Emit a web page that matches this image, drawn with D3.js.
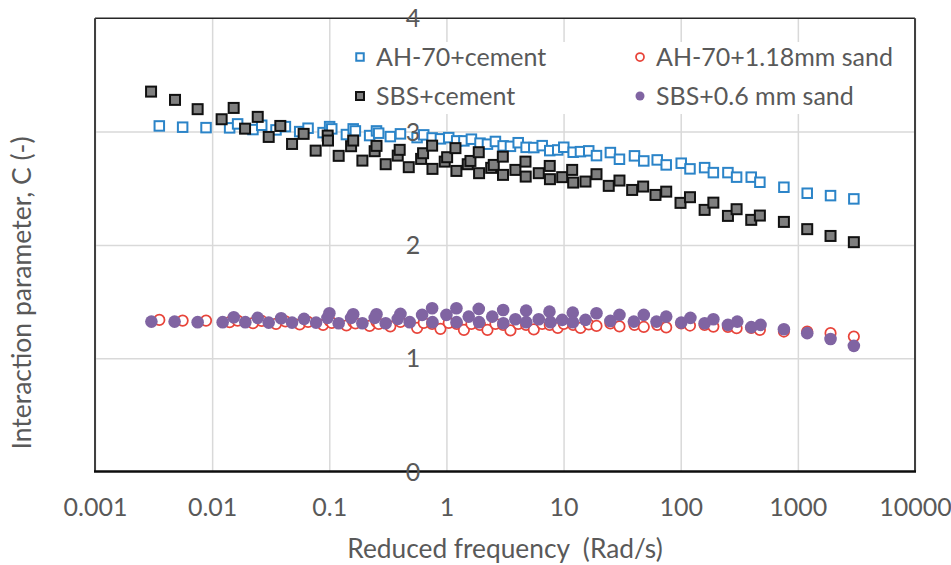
<!DOCTYPE html>
<html>
<head>
<meta charset="utf-8">
<script src="https://cdn.jsdelivr.net/npm/d3@7"></script>
<style>
  body { margin: 0; background: #fff; }
  text { font-family: Lato, "Open Sans", sans-serif; fill: #595959; }
</style>
</head>
<body>
<div id="chart"></div>
<script>
// data
const xTicks = [0.001, 0.01, 0.1, 1, 10, 100, 1000, 10000];
const yTicks = [0, 1, 2, 3, 4];

// AH-70 series share one frequency set
const ahFreq = [0.00354, 0.0056, 0.00887, 0.0141, 0.0165, 0.0223, 0.0265, 0.0351, 0.0422, 0.0559,
  0.0659, 0.0885, 0.1007, 0.105, 0.140, 0.160, 0.167, 0.221, 0.253, 0.264,
  0.332, 0.405, 0.562, 0.640, 0.755, 0.889, 1.046, 1.224, 1.41, 1.634,
  1.935, 2.24, 2.62, 3.05, 3.52, 4.10, 4.79, 5.57, 6.57, 7.62,
  8.92, 10.04, 12.08, 13.94, 16.4, 19.1, 25.1, 30.0, 40.3, 48.4,
  63.0, 75.2, 101, 120, 160, 190, 253, 300, 400, 474,
  760, 1202, 1901, 3006];
const ahCementC = [3.050, 3.039, 3.035, 3.033, 3.068, 3.018, 3.056, 3.015, 3.044, 3.000,
  3.030, 2.991, 3.044, 3.024, 2.974, 3.024, 3.006, 2.965, 3.006, 2.986,
  2.956, 2.980, 2.947, 2.971, 2.944, 2.936, 2.947, 2.918, 2.918, 2.933,
  2.898, 2.889, 2.913, 2.874, 2.870, 2.902, 2.861, 2.859, 2.876, 2.832,
  2.838, 2.862, 2.818, 2.823, 2.830, 2.788, 2.815, 2.756, 2.786, 2.741,
  2.750, 2.706, 2.721, 2.671, 2.682, 2.638, 2.638, 2.598, 2.598, 2.553,
  2.509, 2.456, 2.435, 2.406];
const ahSandC = [1.338, 1.332, 1.332, 1.318, 1.332, 1.309, 1.329, 1.303, 1.325, 1.298,
  1.320, 1.294, 1.329, 1.312, 1.289, 1.320, 1.307, 1.285, 1.320, 1.303,
  1.281, 1.320, 1.267, 1.312, 1.303, 1.259, 1.312, 1.303, 1.250, 1.303,
  1.294, 1.250, 1.303, 1.294, 1.245, 1.303, 1.294, 1.254, 1.303, 1.294,
  1.267, 1.303, 1.294, 1.267, 1.298, 1.285, 1.307, 1.281, 1.294, 1.276,
  1.294, 1.272, 1.307, 1.288, 1.294, 1.279, 1.276, 1.265, 1.267, 1.250,
  1.235, 1.235, 1.221, 1.191];

const sbsCementFreq = [0.00301, 0.00482, 0.00752, 0.01205, 0.01527, 0.0191, 0.0245, 0.0304, 0.0382, 0.0481,
  0.0604, 0.0765, 0.0969, 0.0975, 0.1203, 0.1535, 0.160, 0.1917, 0.244, 0.253,
  0.303, 0.384, 0.399, 0.477, 0.608, 0.632, 0.755, 0.76, 0.967, 1.014,
  1.194, 1.217, 1.52, 1.603, 1.888, 1.9, 2.41, 2.535, 3.03, 3.04,
  3.88, 4.73, 4.75, 6.14, 7.62, 7.65, 9.73, 11.84, 12.08, 15.38,
  19.1, 24.3, 30.0, 38.5, 47.8, 60.9, 75.2, 99.6, 120, 160,
  190, 253, 300, 400, 474, 760, 1202, 1901, 3006];
const sbsCementC = [3.353, 3.280, 3.198, 3.109, 3.209, 3.026, 3.130, 2.953, 3.050, 2.891,
  2.980, 2.832, 2.965, 2.921, 2.786, 2.871, 2.921, 2.744, 2.827, 2.874,
  2.712, 2.788, 2.839, 2.686, 2.759, 2.809, 2.876, 2.671, 2.735, 2.774,
  2.854, 2.653, 2.712, 2.741, 2.818, 2.633, 2.680, 2.706, 2.779, 2.618,
  2.662, 2.735, 2.603, 2.633, 2.697, 2.580, 2.598, 2.662, 2.550, 2.559,
  2.624, 2.521, 2.568, 2.485, 2.515, 2.441, 2.470, 2.371, 2.421, 2.309,
  2.373, 2.256, 2.315, 2.221, 2.259, 2.203, 2.139, 2.079, 2.024];

const sbsSandFreq = [0.00303, 0.00478, 0.00752, 0.0123, 0.0153, 0.0192, 0.0245, 0.0304, 0.0388, 0.0481,
  0.0609, 0.0771, 0.1002, 0.0964, 0.1203, 0.160, 0.1535, 0.1917, 0.253, 0.244,
  0.303, 0.405, 0.384, 0.486, 0.620, 0.755, 0.76, 1.0, 1.217, 1.22,
  1.55, 1.888, 1.9, 2.46, 3.05, 3.06, 3.88, 4.79, 4.8, 6.14,
  7.58, 7.74, 9.73, 11.98, 12.0, 15.38, 19.1, 25.1, 30.0, 39.8,
  48.4, 62.1, 75.2, 101, 121, 160, 190, 253, 304, 400,
  480, 760, 1202, 1901, 3006];
const sbsSandC = [1.323, 1.323, 1.318, 1.318, 1.362, 1.318, 1.356, 1.314, 1.353, 1.314,
  1.347, 1.314, 1.397, 1.356, 1.309, 1.388, 1.356, 1.309, 1.388, 1.356,
  1.309, 1.391, 1.347, 1.318, 1.382, 1.441, 1.318, 1.382, 1.441, 1.318,
  1.367, 1.435, 1.318, 1.367, 1.426, 1.309, 1.344, 1.420, 1.318, 1.344,
  1.411, 1.318, 1.338, 1.402, 1.318, 1.338, 1.397, 1.329, 1.382, 1.323,
  1.382, 1.323, 1.367, 1.314, 1.356, 1.309, 1.344, 1.294, 1.323, 1.274,
  1.294, 1.256, 1.221, 1.170, 1.109];

const seriesNames = ["AH-70+cement", "AH-70+1.18mm sand", "SBS+cement", "SBS+0.6 mm sand"];

class FreqChart {
  constructor(parentElement) {
    this.parentElement = parentElement;
    this.initVis();
  }

  initVis() {
    let vis = this;

    vis.width = 951;
    vis.height = 565;
    vis.plot = { left: 95, right: 915, top: 18.3, bottom: 471.5 };

    vis.svg = d3.select("#" + vis.parentElement).append("svg")
      .attr("width", vis.width)
      .attr("height", vis.height);

    vis.x = d3.scaleLog().domain([0.001, 10000]).range([vis.plot.left, vis.plot.right]);
    vis.y = d3.scaleLinear().domain([0, 4]).range([vis.plot.bottom, vis.plot.top]);

    vis.series = [
      { name: seriesNames[0], shape: "square", freq: ahFreq, c: ahCementC },
      { name: seriesNames[1], shape: "ring", freq: ahFreq, c: ahSandC },
      { name: seriesNames[2], shape: "graySquare", freq: sbsCementFreq, c: sbsCementC },
      { name: seriesNames[3], shape: "dot", freq: sbsSandFreq, c: sbsSandC }
    ];

    vis.updateChart();
  }

  updateChart() {
    let vis = this;
    let p = vis.plot;

    // gridlines
    vis.svg.append("g")
      .attr("transform", `translate(0,${p.bottom})`)
      .call(d3.axisBottom(vis.x).tickValues(xTicks).tickSize(-(p.bottom - p.top)).tickFormat(""))
      .call(g => g.select(".domain").remove())
      .selectAll("line").attr("stroke", "#d9d9d9").attr("stroke-width", 1.5);

    vis.svg.append("g")
      .attr("transform", `translate(${p.left},0)`)
      .call(d3.axisLeft(vis.y).tickValues([1, 2, 3]).tickSize(-(p.right - p.left)).tickFormat(""))
      .call(g => g.select(".domain").remove())
      .selectAll("line").attr("stroke", "#d9d9d9").attr("stroke-width", 1.5);

    // frame
    let frame = vis.svg.append("g");
    frame.append("line").attr("x1", p.left).attr("x2", p.right).attr("y1", p.top).attr("y2", p.top)
      .attr("stroke", "#262626").attr("stroke-width", 1.5);
    frame.append("line").attr("x1", p.left).attr("x2", p.left).attr("y1", p.top).attr("y2", p.bottom)
      .attr("stroke", "#404040").attr("stroke-width", 2);
    frame.append("line").attr("x1", p.right).attr("x2", p.right).attr("y1", p.top).attr("y2", p.bottom)
      .attr("stroke", "#404040").attr("stroke-width", 2);
    frame.append("line").attr("x1", p.left - 1).attr("x2", p.right + 1).attr("y1", p.bottom).attr("y2", p.bottom)
      .attr("stroke", "#0d0d0d").attr("stroke-width", 2.5);

    // markers
    vis.series.forEach(s => {
      let pts = s.freq.map((f, i) => ({ f: f, c: s.c[i] }));
      let g = vis.svg.append("g").attr("class", "series");
      vis.drawMarkers(g, pts, s.shape);
    });

    // x tick labels
    vis.svg.append("g")
      .attr("transform", `translate(0,${p.bottom})`)
      .call(d3.axisBottom(vis.x).tickValues(xTicks).tickSize(0).tickPadding(0).tickFormat(d => String(d)))
      .call(g => g.select(".domain").remove())
      .selectAll("text")
      .attr("dy", null)
      .attr("y", 44.5)
      .attr("font-size", 25)
      .attr("font-family", "Lato")
      .attr("fill", "#595959");

    // y tick labels, sitting near x = 0.5
    vis.svg.append("g")
      .selectAll("text")
      .data(yTicks)
      .enter().append("text")
      .attr("x", 413)
      .attr("y", d => vis.y(d))
      .attr("dy", "0.36em")
      .attr("text-anchor", "middle")
      .attr("font-size", 25)
      .text(d => d);

    // axis titles
    vis.svg.append("text")
      .attr("x", 505)
      .attr("y", 558)
      .attr("text-anchor", "middle")
      .attr("font-size", 26.3)
      .attr("xml:space", "preserve")
      .style("white-space", "pre")
      .text("Reduced frequency  (Rad/s)");

    vis.svg.append("text")
      .attr("transform", "translate(31,293) rotate(-90)")
      .attr("text-anchor", "middle")
      .attr("font-size", 26.5)
      .text("Interaction parameter, C (-)");

    vis.createLegend();
  }

  drawMarkers(g, pts, shape) {
    let vis = this;
    if (shape === "square" || shape === "graySquare") {
      let size = shape === "square" ? 9.5 : 10;
      g.selectAll("rect")
        .data(pts)
        .enter().append("rect")
        .attr("x", d => vis.x(d.f) - size / 2)
        .attr("y", d => vis.y(d.c) - size / 2)
        .attr("width", size)
        .attr("height", size)
        .attr("fill", shape === "square" ? "#fff" : "#7f7f7f")
        .attr("stroke", shape === "square" ? "#2b84c8" : "#111")
        .attr("stroke-width", 2);
    } else {
      g.selectAll("circle")
        .data(pts)
        .enter().append("circle")
        .attr("cx", d => vis.x(d.f))
        .attr("cy", d => vis.y(d.c))
        .attr("r", shape === "ring" ? 5.2 : 6.3)
        .attr("fill", shape === "ring" ? "#fff" : "#8064a2")
        .attr("stroke", shape === "ring" ? "#e8443a" : "none")
        .attr("stroke-width", shape === "ring" ? 1.75 : 0);
    }
  }

  createLegend() {
    let vis = this;

    let legend = vis.svg.append("g").attr("class", "legend");
    legend.append("rect")
      .attr("x", 348).attr("y", 42)
      .attr("width", 560).attr("height", 72)
      .attr("fill", "#fff");

    let pos = [
      { mx: 360, tx: 376, y: 57 },
      { mx: 640, tx: 656, y: 57 },
      { mx: 360, tx: 376, y: 96 },
      { mx: 640, tx: 656, y: 96 }
    ];

    vis.series.forEach((s, i) => {
      let item = legend.append("g");
      let q = pos[i];
      if (s.shape === "square" || s.shape === "graySquare") {
        let sz = s.shape === "square" ? 7.5 : 8;
        item.append("rect")
          .attr("x", q.mx - sz / 2).attr("y", q.y - sz / 2)
          .attr("width", sz).attr("height", sz)
          .attr("fill", s.shape === "square" ? "#fff" : "#7f7f7f")
          .attr("stroke", s.shape === "square" ? "#2b84c8" : "#111")
          .attr("stroke-width", 2);
      } else {
        item.append("circle")
          .attr("cx", q.mx).attr("cy", q.y)
          .attr("r", s.shape === "ring" ? 4 : 4.5)
          .attr("fill", s.shape === "ring" ? "#fff" : "#8064a2")
          .attr("stroke", s.shape === "ring" ? "#e8443a" : "none")
          .attr("stroke-width", 1.75);
      }
      item.append("text")
        .attr("x", q.tx)
        .attr("y", q.y)
        .attr("dy", "0.36em")
        .attr("font-size", 25)
        .text(s.name);
    });
  }
}

new FreqChart("chart");
</script>
</body>
</html>
